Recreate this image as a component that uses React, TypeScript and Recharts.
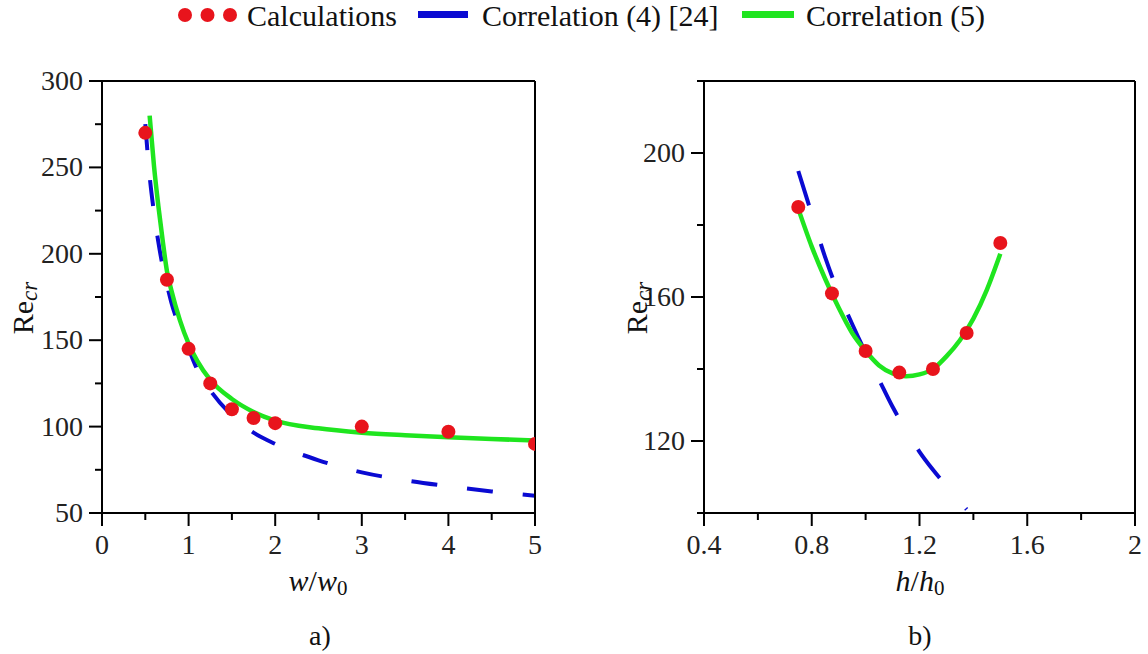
import { ComposedChart, Line, Scatter, XAxis, YAxis } from 'recharts';

const FONT = "'Liberation Serif', 'DejaVu Serif', Tinos, 'Times New Roman', Times, serif";
const RED = '#e8141c';
const BLUE = '#0a0ad2';
const GREEN = '#1fe51f';

const seriesNames = ['Calculations', 'Correlation (4) [24]', 'Correlation (5)'];

// panel a) : Re_cr vs w/w0
const calcAx = [0.5, 0.75, 1, 1.25, 1.5, 1.75, 2, 3, 4, 5];
const calcAy = [270, 185, 145, 125, 110, 105, 102, 100, 97, 90];
const corr4Ax = [0.5, 0.55, 0.6, 0.65, 0.7, 0.75, 0.8, 0.9, 1, 1.1, 1.25, 1.5, 1.75, 2, 2.5, 3, 3.5, 4, 4.5, 5];
const corr4Ay = [275, 245, 224, 207, 193, 182, 172, 157, 145, 133, 121, 106.5, 96.5, 90, 80.5, 73.5, 69, 65.5, 62.5, 60];
const corr5Ax = [0.55, 0.6, 0.65, 0.7, 0.75, 0.8, 0.9, 1, 1.1, 1.25, 1.5, 1.75, 2, 2.5, 3, 3.5, 4, 4.5, 5];
const corr5Ay = [280, 251, 228, 208, 190, 179, 161.5, 148, 138, 127, 116, 108.5, 103.5, 99, 96.5, 95, 93.8, 92.8, 92];
const xTicksA = [0, 0.5, 1, 1.5, 2, 2.5, 3, 3.5, 4, 4.5, 5];
const xMajorA = [0, 1, 2, 3, 4, 5];
const yTicksA = [50, 75, 100, 125, 150, 175, 200, 225, 250, 275, 300];
const yMajorA = [50, 100, 150, 200, 250, 300];

// panel b) : Re_cr vs h/h0
const calcBx = [0.75, 0.875, 1, 1.125, 1.25, 1.375, 1.5];
const calcBy = [185, 161, 145, 139, 140, 150, 175];
const corr4Bx = [0.75, 0.8, 0.85, 0.9, 0.95, 1, 1.05, 1.1, 1.15, 1.2, 1.25, 1.3, 1.375];
const corr4By = [195, 183, 171, 161, 152.5, 144.5, 137, 129.5, 123, 117, 112, 107.5, 101];
const corr5Bx = [0.75, 0.8, 0.85, 0.9, 0.95, 1, 1.05, 1.1, 1.15, 1.2, 1.25, 1.3, 1.35, 1.4, 1.45, 1.5];
const corr5By = [184.5, 174, 165, 157, 150, 145, 141, 138.8, 138, 138.5, 140, 143.5, 148, 154, 162, 172];
const xTicksB = [0.4, 0.6, 0.8, 1, 1.2, 1.4, 1.6, 1.8, 2];
const xMajorB = [0.4, 0.8, 1.2, 1.6, 2];
const yTicksB = [100, 120, 140, 160, 180, 200, 220];
const yMajorB = [120, 160, 200];

type Pt = { x: number; y: number };
const zip = (xs: number[], ys: number[]): Pt[] => xs.map((x, i) => ({ x, y: ys[i] }));

const isMajor = (majors: number[], v: number) => majors.some((m) => Math.abs(m - v) < 1e-9);

const txt = { fontFamily: FONT, fontSize: 28, fill: '#222' };

function makeTick(axis: 'x' | 'y', majors: number[]) {
  return (props: any) => {
    const { x, y, payload } = props;
    const v = payload.value;
    const major = isMajor(majors, v);
    const len = major ? 13 : 7;
    if (axis === 'y') {
      return (
        <g>
          <line x1={x} x2={x - len} y1={y} y2={y} stroke="#000" strokeWidth={2} />
          {major && (
            <text x={x - 19} y={y + 9} textAnchor="end" style={txt}>
              {String(v)}
            </text>
          )}
        </g>
      );
    }
    return (
      <g>
        <line x1={x} x2={x} y1={y} y2={y + len} stroke="#000" strokeWidth={2} />
        {major && (
          <text x={x} y={y + 41} textAnchor="middle" style={txt}>
            {String(v)}
          </text>
        )}
      </g>
    );
  };
}

const dot = (p: any) => <circle cx={p.cx} cy={p.cy} r={7} fill={RED} />;

type PanelProps = {
  left: number;
  width: number;
  margin: { top: number; right: number; bottom: number; left: number };
  xDomain: [number, number];
  yDomain: [number, number];
  xTicks: number[];
  xMajor: number[];
  yTicks: number[];
  yMajor: number[];
  calc: Pt[];
  corr4: Pt[];
  corr5: Pt[];
  dash: string;
};

const axisLine = { stroke: '#000', strokeWidth: 2 };

function Panel(p: PanelProps) {
  return (
    <div style={{ position: 'absolute', left: p.left, top: 0 }}>
      <ComposedChart width={p.width} height={600} margin={p.margin}>
        <XAxis
          type="number"
          dataKey="x"
          domain={p.xDomain}
          ticks={p.xTicks}
          interval={0}
          height={1}
          tickSize={0}
          tickMargin={0}
          tick={makeTick('x', p.xMajor)}
          tickLine={false}
          axisLine={axisLine}
          allowDataOverflow
        />
        <XAxis xAxisId="top" orientation="top" type="number" domain={p.xDomain} height={1} tick={false} tickLine={false} axisLine={axisLine} />
        <YAxis
          type="number"
          dataKey="y"
          domain={p.yDomain}
          ticks={p.yTicks}
          interval={0}
          width={1}
          tickSize={0}
          tickMargin={0}
          tick={makeTick('y', p.yMajor)}
          tickLine={false}
          axisLine={axisLine}
          allowDataOverflow
        />
        <YAxis yAxisId="right" orientation="right" type="number" domain={p.yDomain} width={1} tick={false} tickLine={false} axisLine={axisLine} />
        <Scatter name={seriesNames[0]} data={p.calc} dataKey="y" shape={dot} isAnimationActive={false} />
        <Line
          name={seriesNames[1]}
          data={p.corr4}
          dataKey="y"
          type="monotone"
          stroke={BLUE}
          strokeWidth={4}
          strokeDasharray={p.dash}
          dot={false}
          activeDot={false}
          isAnimationActive={false}
        />
        <Line
          name={seriesNames[2]}
          data={p.corr5}
          dataKey="y"
          type="monotone"
          stroke={GREEN}
          strokeWidth={4.5}
          dot={false}
          activeDot={false}
          isAnimationActive={false}
        />
      </ComposedChart>
    </div>
  );
}

const htmlText = { position: 'absolute' as const, fontFamily: FONT, color: '#111', lineHeight: 1.1, whiteSpace: 'nowrap' as const };

function YLabel({ cx, cy }: { cx: number; cy: number }) {
  return (
    <div style={{ ...htmlText, left: cx, top: cy, fontSize: 30, transform: 'translate(-50%, -50%) rotate(-90deg)' }}>
      Re<span style={{ fontStyle: 'italic', fontSize: 23, position: 'relative', top: 4 }}>cr</span>
    </div>
  );
}

function XLabel({ cx, cy, v }: { cx: number; cy: number; v: string }) {
  return (
    <div style={{ ...htmlText, left: cx, top: cy, fontSize: 30, transform: 'translate(-50%, -50%)' }}>
      <i>{v}</i>/<i>{v}</i>
      <span style={{ fontSize: 21, position: 'relative', top: 4 }}>0</span>
    </div>
  );
}

function Caption({ cx, cy, t }: { cx: number; cy: number; t: string }) {
  return <div style={{ ...htmlText, left: cx, top: cy, fontSize: 28, transform: 'translate(-50%, -50%)' }}>{t}</div>;
}

const legendText = { fontFamily: FONT, fontSize: 30, fill: '#111' };

function Legend() {
  return (
    <svg width={1148} height={40} style={{ position: 'absolute', left: 0, top: 0 }}>
      {[185, 207.5, 230].map((cx) => (
        <circle key={cx} cx={cx} cy={15} r={7} fill={RED} />
      ))}
      <text x={247} y={26} style={legendText}>
        {seriesNames[0]}
      </text>
      <rect x={418} y={11} width={50} height={7} fill={BLUE} />
      <text x={482} y={26} style={legendText}>
        {seriesNames[1]}
      </text>
      <rect x={742} y={11} width={52} height={7} fill={GREEN} />
      <text x={806} y={26} style={legendText}>
        {seriesNames[2]}
      </text>
    </svg>
  );
}

export default function App() {
  return (
    <div style={{ position: 'absolute', left: 0, top: 0, width: 1148, height: 654, background: '#fff', overflow: 'hidden' }}>
      <Legend />
      <Panel
        left={0}
        width={560}
        margin={{ top: 80, right: 24, bottom: 86, left: 101 }}
        xDomain={[0, 5]}
        yDomain={[50, 300]}
        xTicks={xTicksA}
        xMajor={xMajorA}
        yTicks={yTicksA}
        yMajor={yMajorA}
        calc={zip(calcAx, calcAy)}
        corr4={zip(corr4Ax, corr4Ay)}
        corr5={zip(corr5Ax, corr5Ay)}
        dash="26 30"
      />
      <Panel
        left={600}
        width={548}
        margin={{ top: 80, right: 12, bottom: 86, left: 103 }}
        xDomain={[0.4, 2]}
        yDomain={[100, 220]}
        xTicks={xTicksB}
        xMajor={xMajorB}
        yTicks={yTicksB}
        yMajor={yMajorB}
        calc={zip(calcBx, calcBy)}
        corr4={zip(corr4Bx, corr4By)}
        corr5={zip(corr5Bx, corr5By)}
        dash="36 40"
      />
      <YLabel cx={22} cy={308} />
      <YLabel cx={636} cy={308} />
      <XLabel cx={318} cy={580} v="w" />
      <XLabel cx={920} cy={580} v="h" />
      <Caption cx={320} cy={636} t="a)" />
      <Caption cx={920} cy={636} t="b)" />
    </div>
  );
}
